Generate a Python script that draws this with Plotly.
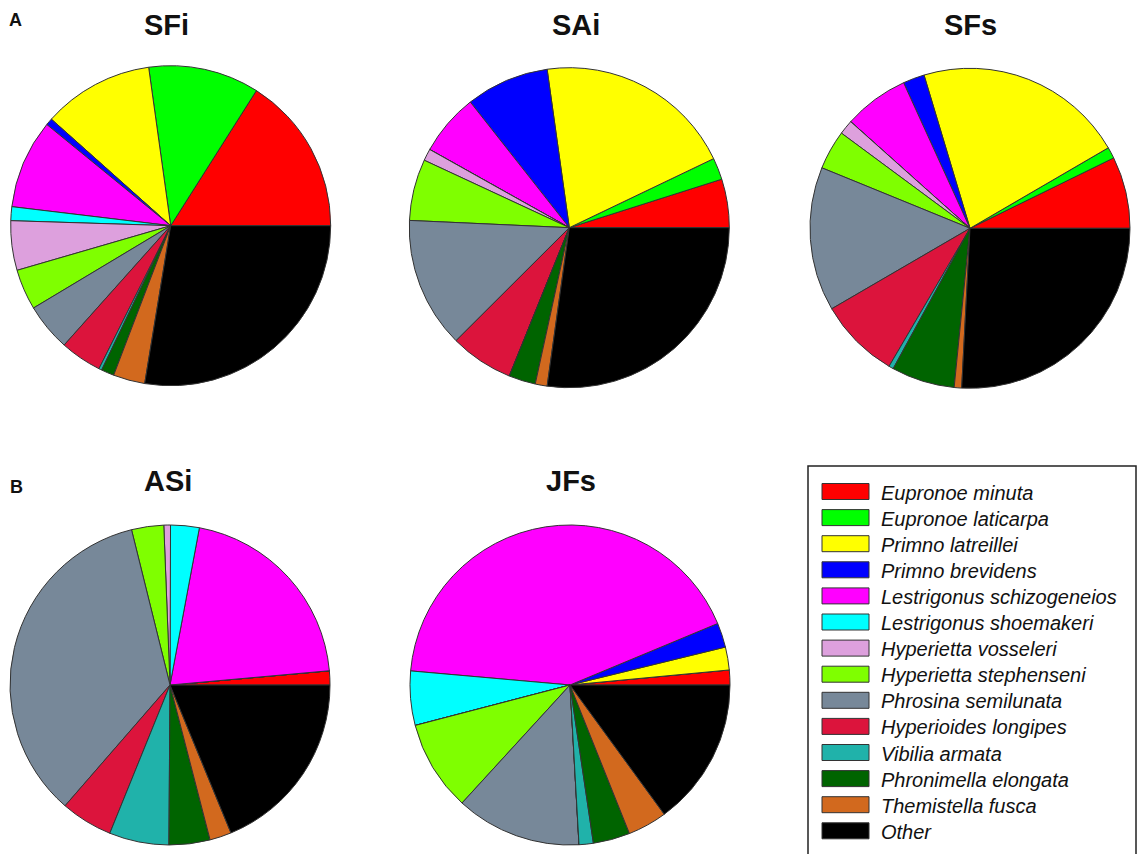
import plotly.graph_objects as go

# Species groups (legend order = slice order)
species = [
    "Eupronoe minuta", "Eupronoe laticarpa", "Primno latreillei", "Primno brevidens",
    "Lestrigonus schizogeneios", "Lestrigonus shoemakeri", "Hyperietta vosseleri",
    "Hyperietta stephenseni", "Phrosina semilunata", "Hyperioides longipes",
    "Vibilia armata", "Phronimella elongata", "Themistella fusca", "Other",
]
colors = [
    "#FF0000", "#00FF00", "#FFFF00", "#0000FF", "#FF00FF", "#00FFFF", "#DDA0DD",
    "#7FFF00", "#778899", "#DC143C", "#20B2AA", "#006400", "#D2691E", "#000000",
]

# Relative abundance (%) per sample group
sfi = [16.0, 11.2, 11.2, 0.7, 9.0, 1.4, 5.0, 4.1, 4.8, 4.2, 0.3, 1.3, 3.2, 27.6]
sai = [4.9, 2.2, 20.1, 8.4, 6.25, 0.0, 1.2, 6.2, 13.2, 6.4, 0.0, 2.7, 1.2, 27.2]
sfs = [7.25, 1.14, 21.25, 2.17, 6.58, 0.0, 1.47, 3.97, 14.56, 8.17, 0.47, 6.39, 0.75, 25.83]
asi = [1.42, 0.0, 0.0, 0.0, 20.64, 2.89, 0.67, 3.25, 34.75, 5.25, 6.03, 4.14, 2.19, 18.78]
jfs = [1.5, 0.0, 2.31, 2.47, 42.31, 5.47, 0.0, 9.14, 12.69, 0.0, 1.44, 3.72, 3.97, 14.97]

groups = ["SFi", "SAi", "SFs", "ASi", "JFs"]
group_values = [sfi, sai, sfs, asi, jfs]

W, H = 1137, 854
R = 160
# pie centres in pixels, and title centres
centres = [(170.7, 225.7), (569.3, 227.7), (970.0, 228.3), (170.0, 685.0), (570.0, 685.0)]
title_pos = [(166.5, 25.5), (576.0, 25.5), (970.3, 25.5), (167.5, 481.0), (571.0, 481.0)]


def px(x):
    return x / W


def py(y):
    return 1 - y / H


fig = go.Figure()
for name, vals, (cx, cy) in zip(groups, group_values, centres):
    # first slice begins at 3 o'clock and the rest follow counterclockwise
    first_angle = 360.0 * vals[0] / sum(vals)
    fig.add_trace(go.Pie(
        labels=species,
        values=vals,
        name=name,
        sort=False,
        direction="counterclockwise",
        rotation=90 - first_angle,
        textinfo="none",
        hoverinfo="label+percent",
        showlegend=False,
        marker=dict(colors=colors, line=dict(color="#333333", width=1)),
        domain=dict(x=[px(cx - R), px(cx + R)], y=[py(cy + R), py(cy - R)]),
    ))

annotations = []
for name, (tx, ty) in zip(groups, title_pos):
    annotations.append(dict(
        text="<b>%s</b>" % name, x=px(tx), y=py(ty), xref="paper", yref="paper",
        xanchor="center", yanchor="middle", showarrow=False,
        font=dict(family="Liberation Sans", size=29, color="#111111"),
    ))
for letter, (lx, ly) in zip(["A", "B"], [(15.5, 20.5), (16.0, 487.0)]):
    annotations.append(dict(
        text="<b>%s</b>" % letter, x=px(lx), y=py(ly), xref="paper", yref="paper",
        xanchor="center", yanchor="middle", showarrow=False,
        font=dict(family="Liberation Sans", size=18, color="#111111"),
    ))

# legend box with swatches
shapes = [dict(
    type="rect", xref="paper", yref="paper",
    x0=px(808), x1=px(1136), y0=py(866), y1=py(466),
    line=dict(color="#222222", width=1.5), fillcolor="rgba(0,0,0,0)",
)]
row0, pitch = 491.5, 26.1
for i, (sp, col) in enumerate(zip(species, colors)):
    yc = row0 + i * pitch
    shapes.append(dict(
        type="rect", xref="paper", yref="paper",
        x0=px(822), x1=px(869), y0=py(yc + 8), y1=py(yc - 8),
        line=dict(color="#333333", width=1), fillcolor=col,
    ))
    annotations.append(dict(
        text="<i>%s</i>" % sp, x=px(879), y=py(yc + 1), xref="paper", yref="paper",
        xanchor="left", yanchor="middle", showarrow=False,
        font=dict(family="Liberation Sans", size=20, color="#111111"),
    ))

fig.update_layout(
    width=W, height=H, autosize=False,
    margin=dict(l=0, r=0, t=0, b=0),
    paper_bgcolor="white", plot_bgcolor="white",
    annotations=annotations, shapes=shapes,
)

fig.write_html("out.html")
